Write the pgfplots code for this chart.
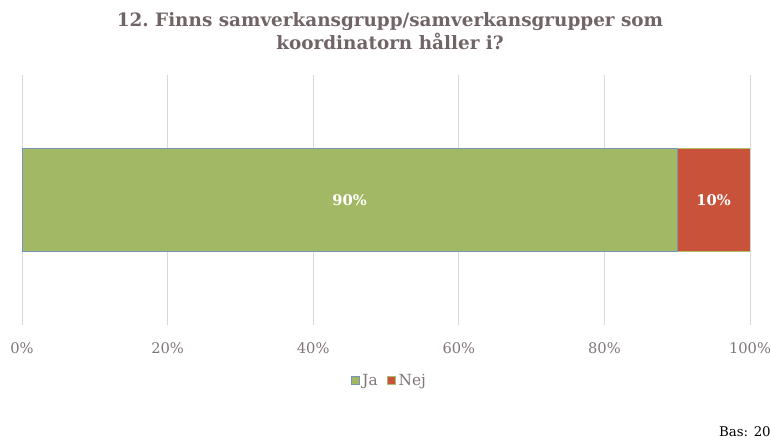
\documentclass[border=0pt]{standalone}
\usepackage{fontspec}
\setmainfont{DejaVu Serif}
\usepackage{pgfplots}
\pgfplotsset{compat=1.18}
\definecolor{jagreen}{RGB}{163,184,100}
\definecolor{jaedge}{RGB}{120,150,180}
\definecolor{nejred}{RGB}{200,83,58}
\definecolor{nejedge}{RGB}{175,188,110}
\definecolor{titlegray}{RGB}{112,100,102}
\definecolor{tickgray}{RGB}{128,118,120}
\definecolor{gridgray}{RGB}{217,217,217}
\begin{document}
\begin{tikzpicture}
\path[use as bounding box] (-16.5pt,-87pt) rectangle (561.75pt,243.75pt);
\begin{axis}[
  at={(0pt,0pt)}, anchor=south west,
  scale only axis, width=546pt, height=187.5pt,
  xbar stacked,
  /pgf/number format/assume math mode=true,
  xmin=0, xmax=100, ymin=-1.2, ymax=1.2,
  bar width=0.99,
  ytick=\empty,
  xtick={0,20,40,60,80,100},
  xticklabel={\pgfmathprintnumber{\tick}\%},
  xmajorgrids,
  grid style={gridgray, line width=0.75pt},
  axis line style={draw=none},
  major tick length=0pt,
  tick label style={font=\fontsize{11}{13}\selectfont, text=tickgray},
  xticklabel style={yshift=-10pt},
  legend style={at={(0.505,-0.224)}, anchor=center, draw=none, fill=none,
    legend columns=2, font=\fontsize{11.5}{13}\selectfont, text=tickgray,
    /tikz/every even column/.append style={column sep=5pt}},
  legend image code/.code={\draw[#1] (0pt,-3pt) rectangle (6pt,3pt);},
]
\addplot[fill=jagreen, draw=jaedge, line width=0.75pt, point meta=explicit,
  nodes near coords={\pgfmathprintnumber{\pgfplotspointmeta}\%},
  every node near coord/.append style={font=\bfseries\fontsize{11}{13}\selectfont, text=white, anchor=center}]
  coordinates {(90,0) [90]};
\addlegendentry{Ja}
\addplot[fill=nejred, draw=nejedge, line width=0.75pt, point meta=explicit,
  nodes near coords={\pgfmathprintnumber{\pgfplotspointmeta}\%},
  every node near coord/.append style={font=\bfseries\fontsize{11}{13}\selectfont, text=white, anchor=center}]
  coordinates {(10,0) [10]};
\addlegendentry{Nej}
\end{axis}
\node[align=center, font=\bfseries\fontsize{13.8}{17.25}\selectfont, text=titlegray] at (276pt,220.1pt)
  {12.\ Finns samverkansgrupp/samverkansgrupper som\\koordinatorn håller i?};
\node[anchor=east, font=\fontsize{10}{12}\selectfont, text=black, inner sep=0pt] at (561.75pt,-80.25pt) {Bas: 20};
\end{tikzpicture}
\end{document}
